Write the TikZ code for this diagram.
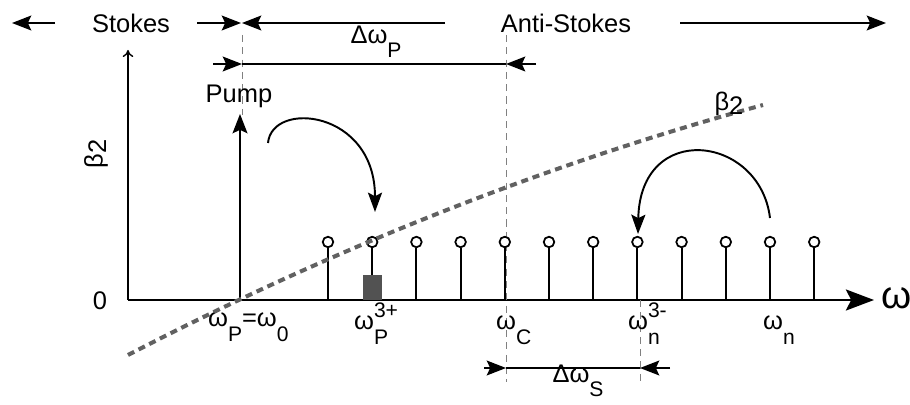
\documentclass[tikz,border=0pt]{standalone}
\usepackage{fontspec}
\setmainfont{Liberation Sans}
\usetikzlibrary{arrows.meta}

\newcommand{\subfont}{\fontsize{12}{12}\selectfont}
\newcommand{\wsub}[1]{ω\raisebox{-8pt}{\subfont #1}}
\newcommand{\wsubsup}[2]{ω\rlap{\raisebox{7pt}{\subfont #2}}\raisebox{-8pt}{\subfont #1}}

\begin{document}
\begin{tikzpicture}[
		x=0.02cm, y=-0.02cm,
		font=\fontsize{14.5}{16}\selectfont,
		head/.style={-{Stealth[length=11pt,width=8.5pt,inset=2pt]}},
		axis/.style={line width=1.1pt},
		dim/.style={head, line width=0.9pt},
		span/.style={line width=0.9pt},
		guide/.style={gray, line width=0.4pt, dash pattern=on 4pt off 3pt},
		stem/.style={line width=1.2pt},
		ring/.style={draw, circle, line width=1pt, minimum size=6pt, inner sep=0pt, fill=white},
		hop/.style={-{Stealth[length=11pt,width=8pt,inset=2pt]}, line width=1.1pt},
		beta/.style={line width=2.3pt, color=black!62, dash pattern=on 4pt off 2.8pt},
		lab/.style={inner sep=1pt}
		]
		\useasboundingbox (0,0) rectangle (910,405);
		
		% Top labels and their arrows
		\node[lab] (stokes) at (131,23) {Stokes};
		\node[lab] (anti) at (566,23) {Anti-Stokes};
		\coordinate (stL) at (55,23);
		\coordinate (stLt) at (12,23);
		\coordinate (stR) at (197,23);
		\coordinate (split) at (241,23);
		\coordinate (splitb) at (242,23);
		\coordinate (asL) at (445,23);
		\coordinate (asR) at (680,23);
		\coordinate (asRt) at (886,23);
		\draw[dim] (stL) -- (stLt);
		\draw[dim] (stR) -- (split);
		\draw[dim] (asL) -- (splitb);
		\draw[dim] (asR) -- (asRt);
		
		% Axes
		\coordinate (O) at (128,300);
		\coordinate (xend) at (874,300);
		\coordinate (yend) at (128,50);
		\draw[axis, -{Stealth[length=16pt,width=12pt,inset=3pt]}] (O) -- (xend);
		\draw[line width=0.8pt, -{To[length=4pt,width=6pt]}] (O) -- (yend);
		\node[lab] (zero) at (100,301) {0};
		\node[lab, font=\fontsize{22}{22}\selectfont] (omega) at (897,298) {ω};
		\node[lab, rotate=90] (ylab) at (96,154) {β\raisebox{-2pt}{2}};
		
		% Guide lines
		\draw[guide] (242,35) -- (242,115);
		\draw[guide] (506,35) -- (506,382);
		\draw[guide] (640,300) -- (640,382);
		
		% Pump line
		\coordinate (pbase) at (240,300);
		\coordinate (ptop) at (240,114);
		\draw[axis, head] (pbase) -- (ptop);
		\node[lab] (pump) at (239,96) {Pump};
		
		% Comb lines
		\foreach \i in {0,...,11} {
			\coordinate (b\i) at ({328+44.2*\i},300);
			\node[ring] (r\i) at ({328+44.2*\i},242) {};
			\draw[stem] (b\i) -- (r\i.south);
		}
		\node[fill=black!68, minimum width=0.38cm, minimum height=0.5cm, inner sep=0pt] (sq) at (372,287.5) {};
		
		% Dispersion curve
		\draw[beta] (128,355) .. controls (338,246) and (553,162) .. (763,105);
		\node[lab] (blab) at (729,104) {β\raisebox{-2pt}{2}};
		
		% Delta omega P
		\coordinate (dpL) at (213,64);
		\coordinate (dpP) at (242,64);
		\coordinate (dpC) at (506,64);
		\coordinate (dpR) at (536,64);
		\draw[dim] (dpL) -- (dpP);
		\draw[dim] (dpR) -- (dpC);
		\draw[span] (dpP) -- (dpC);
		\node[lab] (dwp) at (376,42) {Δ\wsub{P}};
		
		% Delta omega S
		\coordinate (dsL) at (484,368);
		\coordinate (dsC) at (506,368);
		\coordinate (dsN) at (640,368);
		\coordinate (dsR) at (670,368);
		\draw[dim] (dsL) -- (dsC);
		\draw[dim] (dsR) -- (dsN);
		\draw[span] (dsC) -- (dsN);
		\node[lab] (dws) at (578,381) {Δ\wsub{S}};
		
		% Frequency labels
		\node[lab, anchor=base west] (wp) at (206,327) {\wsub{P}=\wsub{0}};
		\node[lab, anchor=base west] (wp3) at (352,330) {\wsubsup{P}{3+}};
		\node[lab, anchor=base west] (wc) at (494,330) {\wsub{C}};
		\node[lab, anchor=base west] (wn3) at (626,330) {\wsubsup{n}{3-}};
		\node[lab, anchor=base west] (wn) at (761,330) {\wsub{n}};
		
		% Transfers
		\coordinate (h1a) at (268,143);
		\coordinate (h1b) at (375,212);
		\coordinate (h2a) at (770,218);
		\coordinate (h2b) at (638,234);
		\draw[hop] (h1a) .. controls (272,100) and (375,110) .. (h1b);
		\draw[hop] (h2a) .. controls (760,135) and (640,120) .. (h2b);
		
	\end{tikzpicture}
\end{document}
